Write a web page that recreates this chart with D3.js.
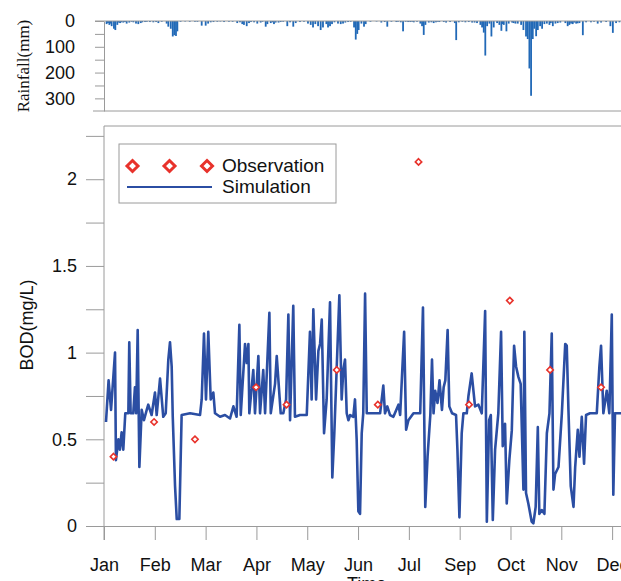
<!DOCTYPE html>
<html>
<head>
<meta charset="utf-8">
<script src="https://cdn.jsdelivr.net/npm/d3@7"></script>
<style>
  body { margin: 0; background: #fff; }
  text { font-family: "Liberation Sans", Arial, sans-serif; fill: #111; }
</style>
</head>
<body>
<script>
"use strict"

// x tick labels (as printed on the original figure)
var monthLabels = ["Jan", "Feb", "Mar", "Apr", "May", "Jun", "Jul", "Sep", "Oct", "Nov", "Dec"];

// daily rainfall (mm), only the days with visible bars
var rainDay = [1.7, 3.5, 5, 6.5, 7.4, 8.7, 10.5, 12.6, 14.8, 16.5, 19.2, 20.9, 22.4, 24, 26.8, 30, 32.2, 35.5, 37.7,
    40.9, 42, 43.6, 44.9, 45.9, 47, 47.9, 56, 59.4, 63.8, 66.4, 68, 69.7, 74, 78.4, 81.6, 87, 88.8, 90.3, 91.4, 93.2,
    94.7, 98, 100.1, 102.3, 105.6, 106.7, 108.9, 111, 112.1, 115.4, 119.7, 121.5, 123.6, 125.2, 130.6, 133.2,
    135, 136.5, 139.8, 141.5, 143, 145.2, 146.3, 147.6, 148.9, 152.8, 154.6, 156.1, 157.6, 159.4, 161.1, 163.3,
    164.4, 165.4, 166.3, 168.1, 169.8, 170.9, 181.1, 183.3, 185, 187.7, 190.9, 193.8, 195.3, 198.6, 201.2,
    202.3, 204.4, 206.6, 207.7, 208.8, 209.9, 212.1, 213.8, 215.3, 216.8, 219, 221.9, 223.4, 229.1, 230, 231.7,
    238.2, 240.4, 243.6, 245.8, 246.9, 248, 249, 250.2, 251.7, 253, 254.5, 256.7, 258.2, 259.5, 261.1, 262.8,
    264.3, 266.5, 268.7, 270.2, 272.4, 273.9, 275.6, 276.7, 277.8, 278.9, 280, 281, 282.2, 283.3, 284.8, 286.1,
    287.6, 289.2, 290.9, 293.1, 294.8, 296.3, 301.3, 302.8, 303.9, 306.1, 308.3, 310.5, 312.7, 314.8, 322.4,
    324.6, 327.9, 330.7, 332.3, 334.4, 336.6,
    2.6, 4.2, 9.6, 11.4, 13.7, 18, 25, 28, 34, 50, 53, 61, 71.5, 76, 84, 96, 103.5, 110, 114, 117, 128, 138,
    150.5, 174, 178, 192, 197, 200, 218, 226, 234, 236, 242, 260.5, 267.5, 291.8, 298, 305, 307, 309.3, 318, 320];
var rainMM = [12, 15, 20, 30, 35, 15, 8, 6, 10, 6, 5, 10, 12, 8, 4, 4, 5, 8, 3,
    10, 22, 30, 60, 55, 58, 40, 3, 3, 18, 18, 10, 5, 3, 4, 3, 8, 5, 12, 15, 20,
    8, 5, 10, 6, 22, 12, 8, 12, 6, 4, 20, 5, 22, 8, 3, 10,
    15, 25, 20, 35, 25, 12, 25, 20, 12, 10, 12, 10, 6, 4, 3, 25,
    72, 50, 35, 10, 22, 12, 6, 4, 22, 3, 4, 5, 40, 4, 3,
    5, 3, 10, 20, 54, 15, 6, 5, 8, 5, 4, 4, 6, 8, 74, 5,
    4, 6, 8, 15, 25, 45, 134, 20, 10, 60, 25, 8, 15, 38, 15, 40,
    10, 6, 10, 10, 15, 35, 60, 70, 184, 290, 70, 30, 59, 35, 20, 30,
    12, 10, 15, 20, 10, 8, 8, 20, 15, 12, 10, 8, 55, 5, 10,
    6, 4, 20, 46, 8, 5,
    8, 10, 6, 5, 4, 3, 5, 3, 4, 3, 2, 3, 4, 2, 3, 4, 3, 5, 6, 3, 4, 12,
    5, 3, 2, 3, 3, 4, 3, 4, 3, 5, 6, 12, 8, 8, 6, 10, 6, 9, 5, 3];

// simulated BOD (mg/L)
var bodDay = [1.3, 3, 4.6, 7.2, 7.8, 9.4, 10.4, 11.5, 12.6, 13.9, 15.9, 16.5, 17.4, 19.1, 20.2, 21, 22, 23.1, 24.6,
    26.1, 27.9, 28.9, 31.1, 33.3, 34.4, 36.6, 38.7, 40.3, 42, 43.1, 44.2, 44.9, 46.4, 47.5, 49.2, 50.7, 56.2,
    62.7, 63.8, 65.3, 66.6, 68.1, 69.7, 71.4, 72.5, 75.8, 79, 82.3, 84.5, 86.6, 88.4, 89.3, 92.1, 93.2, 94.3,
    94.9, 97.5, 98.6, 100.8, 101.9, 104, 105.2, 108, 108.9, 111.7, 112.8, 115.4, 117.1, 118.9, 120.4, 121.5,
    123.6, 124.7, 128, 132.4, 134.5, 135.6, 136.7, 138.5, 140, 141.1, 142.2, 143.7, 145.4, 147.6, 149.1, 150.4,
    152, 153.7, 155.2, 156.3, 157.4, 158.5, 159.6, 160.7, 162.8, 163.9, 165, 166.1, 167.2, 168.3, 169.3, 170.5,
    171.6, 180.3, 182.4, 183.5, 185, 186.8, 189, 192.3, 193.4, 194.9, 196, 197.3, 198.8, 202.1, 206.5, 208.3,
    209.8, 211.3, 213.1, 214.2, 215.2, 216.3, 217.8, 219.1, 220.7, 221.8, 222.9, 224.4, 225.5, 227.3, 229.9,
    230.8, 232.1, 233.6, 234.7, 236.9, 238, 240.1, 242.3, 244.5, 246.7, 248.9, 250, 251.5, 252.6, 253.9, 255.4,
    257.5, 259.3, 260.4, 261.9, 263, 264.7, 266.3, 267.8, 269.1, 270.6, 272.1, 273.9, 274.5, 275.6, 277.1,
    279.3, 280.4, 281.9, 283.3, 284.3, 285.9, 287.6, 289.2, 290.9, 292.4, 293.5, 294.6, 296.8, 299, 301.2,
    302.2, 303.3, 304.8, 306.6, 307.7, 309.4, 310.5, 312, 313.5, 314.8, 317.4, 321.8, 323.5, 324.6, 326.1,
    328.3, 330, 331.6, 332.6, 333.7, 337.7];
var bodValue = [0.60, 0.84, 0.67, 1.00, 0.38, 0.50, 0.44, 0.54, 0.44, 0.65, 0.65, 1.06, 0.65, 0.65, 0.80, 0.65, 1.13, 0.34, 0.67,
    0.61, 0.67, 0.70, 0.64, 0.77, 0.64, 0.85, 0.63, 0.65, 0.96, 1.06, 0.92, 0.63, 0.23, 0.04, 0.04, 0.64, 0.65,
    0.64, 0.73, 1.11, 0.73, 1.12, 0.73, 0.77, 0.65, 0.63, 0.64, 0.62, 0.69, 0.63, 1.16, 0.64, 1.05, 0.94, 1.05,
    0.65, 0.90, 0.65, 0.98, 0.65, 0.90, 0.65, 1.23, 0.65, 0.82, 0.98, 0.65, 0.65, 0.73, 1.22, 0.61,
    1.27, 0.63, 0.64, 0.64, 1.12, 0.73, 1.25, 0.73, 1.01, 1.05, 1.19, 0.535, 0.73, 1.29, 0.28, 0.535,
    0.92, 1.33, 0.73, 0.90, 0.96, 0.65, 0.61, 0.64, 0.63, 0.73, 0.50, 0.085, 0.07, 0.535, 0.65, 1.34,
    0.65, 0.65, 0.81, 0.65, 0.69, 0.64, 0.63, 0.70, 0.64, 0.92, 1.12, 0.555, 0.61, 0.65, 0.65, 1.26,
    0.11, 0.40, 0.64, 0.96, 0.65, 0.78, 0.71, 0.84, 0.67, 0.80, 0.84, 1.13, 0.69, 0.65, 0.64,
    0.44, 0.05, 0.535, 0.65, 0.65, 0.75, 0.88, 0.69, 0.70, 0.65, 1.24, 0.025, 0.61, 0.64, 0.035, 0.44,
    0.65, 1.12, 0.46, 0.59, 0.13, 0.38, 0.55, 1.04, 0.92, 0.86, 0.82, 0.21, 1.12, 0.19, 0.13,
    0.025, 0.015, 0.11, 0.57, 0.07, 0.092, 0.07, 0.535, 0.65, 1.11, 0.21, 0.30, 0.34, 0.65, 1.05,
    1.04, 0.67, 0.23, 0.11, 0.34, 0.555, 0.40, 0.63, 0.36, 0.64, 0.65, 0.65, 0.92, 1.04, 0.65,
    0.78, 0.65, 1.22, 0.18, 0.65, 0.65];

// observed BOD (mg/L)
var obsDay = [6.2, 32.7, 59.4, 99.3, 119.2, 152, 178.8, 205.4, 238.4, 265, 291.3, 324.6];
var obsValue = [0.4, 0.6, 0.5, 0.8, 0.7, 0.9, 0.7, 2.1, 0.7, 1.3, 0.9, 0.8];

var width = 621, height = 581;
var axisColor = "#9a9a9a";
var lineColor = "#2b4ea3";
var rainColor = "#2169b7";
var obsColor = "#e8322b";

var svg = d3.select("body").append("svg")
    .attr("width", width)
    .attr("height", height);

var x = d3.scaleLinear().domain([0, 365]).range([104, 104 + 365 * 1.5313]);
var yRain = d3.scaleLinear().domain([0, 349]).range([21, 111]);
var yBod = d3.scaleLinear().domain([0, 2.307]).range([526, 126]);

// ---- rainfall panel ----
var rain = rainDay.map(function(d, i) { return {day: d, mm: rainMM[i]}; });

svg.append("g").selectAll("rect")
    .data(rain)
    .enter()
    .append("rect")
    .attr("x", function(d) { return x(d.day) - 0.9; })
    .attr("y", yRain(0))
    .attr("width", 1.8)
    .attr("height", function(d) { return yRain(d.mm) - yRain(0); })
    .attr("fill", rainColor);

var rainAxis = svg.append("g")
    .attr("transform", "translate(104,0)")
    .call(d3.axisLeft(yRain)
        .tickValues(d3.range(0, 301, 50))
        .tickSize(9)
        .tickSizeOuter(0)
        .tickPadding(20)
        .tickFormat(function(d) { return d % 100 === 0 ? d : ""; }));
rainAxis.selectAll("line,path").attr("stroke", axisColor);
rainAxis.selectAll("text").style("font-size", "18px").attr("fill", "#111");

svg.append("line").attr("x1", 95).attr("x2", width).attr("y1", 21).attr("y2", 21).attr("stroke", axisColor);
svg.append("line").attr("x1", 93).attr("x2", width).attr("y1", 111).attr("y2", 111).attr("stroke", axisColor);

svg.append("text")
    .attr("transform", "translate(29,66) rotate(-90)")
    .attr("text-anchor", "middle")
    .style("font-family", "'Liberation Serif', 'Times New Roman', serif")
    .style("font-size", "17px")
    .text("Rainfall(mm)");

// ---- BOD panel ----
svg.append("line").attr("x1", 104).attr("x2", width).attr("y1", 126).attr("y2", 126).attr("stroke", axisColor);

var bodAxis = svg.append("g")
    .attr("transform", "translate(104,0)")
    .call(d3.axisLeft(yBod)
        .tickValues(d3.range(0, 2.26, 0.25))
        .tickSize(18)
        .tickSizeOuter(0)
        .tickPadding(9)
        .tickFormat(function(d) { return Math.abs(d * 2 - Math.round(d * 2)) < 1e-6 ? d3.format("")(+d.toFixed(1)) : ""; }));
bodAxis.select("path.domain").attr("d", "M0,540V126");
bodAxis.selectAll("line,path").attr("stroke", axisColor);
bodAxis.selectAll("text").style("font-size", "18px").attr("fill", "#111");

var timeAxis = svg.append("g")
    .attr("transform", "translate(0,526)")
    .call(d3.axisBottom(x)
        .tickValues(d3.range(11).map(function(i) { return i * 365 / 11; }))
        .tickSize(14)
        .tickSizeOuter(0)
        .tickPadding(18)
        .tickFormat(function(d, i) { return monthLabels[i]; }));
timeAxis.selectAll("line,path").attr("stroke", axisColor);
timeAxis.selectAll("text").style("font-size", "18px").attr("fill", "#111");

svg.append("text")
    .attr("transform", "translate(33,325) rotate(-90)")
    .attr("text-anchor", "middle")
    .style("font-size", "18px")
    .text("BOD(mg/L)");

svg.append("text")
    .attr("x", 347)
    .attr("y", 590)
    .style("font-size", "18px")
    .text("Time");

// simulation line
var sim = bodDay.map(function(d, i) { return [d, bodValue[i]]; });
svg.append("path")
    .datum(sim)
    .attr("fill", "none")
    .attr("stroke", lineColor)
    .attr("stroke-width", 2.6)
    .attr("stroke-linejoin", "round")
    .attr("d", d3.line()
        .x(function(d) { return x(d[0]); })
        .y(function(d) { return yBod(d[1]); }));

// observations
var diamond = function(s) { return "M0," + (-s) + "L" + s + ",0L0," + s + "L" + (-s) + ",0Z"; };
var obs = obsDay.map(function(d, i) { return {day: d, value: obsValue[i]}; });
svg.append("g").selectAll("path")
    .data(obs)
    .enter()
    .append("path")
    .attr("transform", function(d) { return "translate(" + x(d.day) + "," + yBod(d.value) + ")"; })
    .attr("d", diamond(3.2))
    .attr("fill", "#fff")
    .attr("stroke", obsColor)
    .attr("stroke-width", 1.6);

// legend
var legend = svg.append("g").attr("class", "legend");
legend.append("rect")
    .attr("x", 119).attr("y", 144)
    .attr("width", 217).attr("height", 59)
    .attr("fill", "#fff")
    .attr("stroke", axisColor);
legend.selectAll("path.key")
    .data([132.5, 169.5, 207])
    .enter()
    .append("path")
    .attr("class", "key")
    .attr("transform", function(d) { return "translate(" + d + ",166)"; })
    .attr("d", diamond(5.5))
    .attr("fill", "#fff")
    .attr("stroke", obsColor)
    .attr("stroke-width", 3);
legend.append("line")
    .attr("x1", 127).attr("x2", 212)
    .attr("y1", 187).attr("y2", 187)
    .attr("stroke", lineColor)
    .attr("stroke-width", 2);
legend.append("text").attr("x", 222).attr("y", 171.5).style("font-size", "19px").text("Observation");
legend.append("text").attr("x", 222).attr("y", 193).style("font-size", "19px").text("Simulation");
</script>
</body>
</html>
